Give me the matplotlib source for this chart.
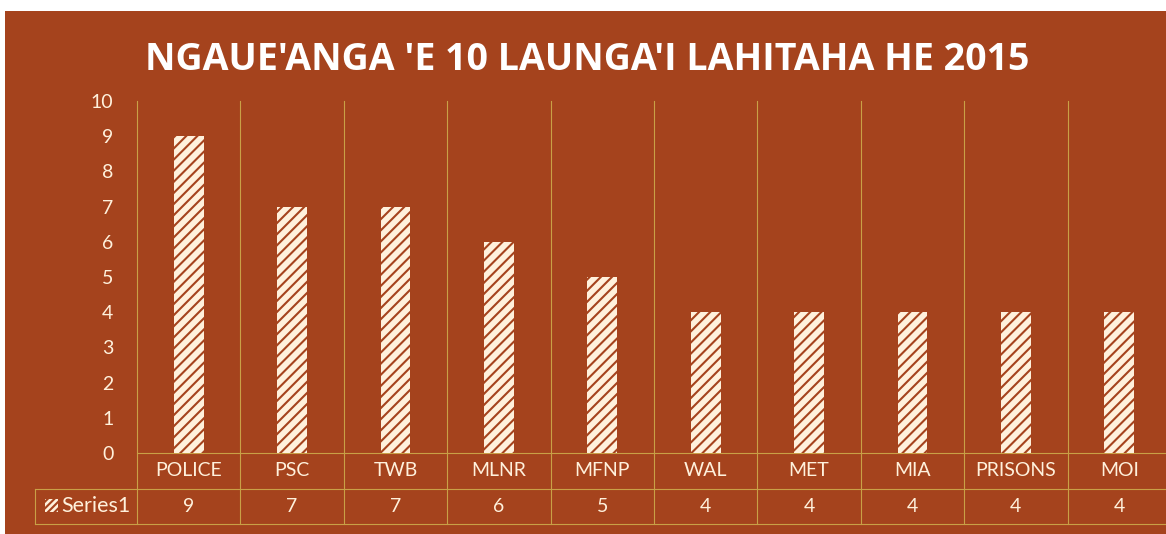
import matplotlib.pyplot as plt
import matplotlib.patches as mpatches
from matplotlib.transforms import blended_transform_factory

# datos
categorias = ['POLICE', 'PSC', 'TWB', 'MLNR', 'MFNP', 'WAL', 'MET', 'MIA', 'PRISONS', 'MOI']
valores = [9, 7, 7, 6, 5, 4, 4, 4, 4, 4]
serie = 'Series1'
titulo = "NGAUE'ANGA 'E 10 LAUNGA'I LAHITAHA HE 2015"

fondo = '#A5431D'
crema = '#FFF1DC'
linea = '#C9A046'

plt.rcParams['font.family'] = ['Lato', 'DejaVu Sans']
plt.rcParams['hatch.linewidth'] = 1.5

W, H = 1166, 534
fig = plt.figure(figsize=(W / 100, H / 100), dpi=100, facecolor='white')

# fondo del grafico (el escaneo deja un borde blanco arriba y a la izquierda)
fig.patches.append(mpatches.Rectangle((5 / W, 0), 1, 1 - 11 / H, transform=fig.transFigure,
                                      facecolor=fondo, edgecolor='none', zorder=-10))

ax = fig.add_axes([137 / W, 81 / H, 1034 / W, 352 / H])
ax.set_facecolor('none')
x = list(range(len(categorias)))
ax.bar(x, valores, width=0.29, facecolor=crema, edgecolor=fondo, linewidth=0, hatch='///', zorder=3)
ax.set_xlim(-0.5, len(categorias) - 0.5)
ax.set_ylim(0, 10)
ax.set_yticks(range(0, 11))
ax.tick_params(axis='y', length=0, pad=17, labelcolor=crema, labelsize=14)
ax.set_xticks([])
for s in ax.spines.values():
    s.set_visible(False)

# lineas verticales entre categorias (siguen hasta la tabla)
tr = blended_transform_factory(ax.transData, ax.transAxes)
tabla_h = (524 - 453) / 352
fila_h = tabla_h / 2
for i in range(len(categorias) + 1):
    ax.plot([i - 0.5, i - 0.5], [-tabla_h, 1], transform=tr, color=linea, lw=0.8,
            clip_on=False, zorder=1)

# lineas horizontales de la tabla
x_ser = (35 - 137) / 1034
ax.plot([0, 1], [0, 0], transform=ax.transAxes, color=linea, lw=0.8, clip_on=False)
for yy in [-fila_h, -tabla_h]:
    ax.plot([x_ser, 1], [yy, yy], transform=ax.transAxes, color=linea, lw=0.8, clip_on=False)
ax.plot([x_ser, x_ser], [-fila_h, -tabla_h], transform=ax.transAxes, color=linea, lw=0.8,
        clip_on=False)

# tabla de datos
for i, (c, v) in enumerate(zip(categorias, valores)):
    ax.text(i, -fila_h / 2, c, transform=tr, ha='center', va='center', color=crema, fontsize=14)
    ax.text(i, -fila_h * 1.5, str(v), transform=tr, ha='center', va='center', color=crema,
            fontsize=14)

# clave de la serie
ax.add_patch(mpatches.Rectangle(((45 - 137) / 1034, -fila_h * 1.5 - 6 / 352), 13 / 1034, 13 / 352,
                                transform=ax.transAxes, facecolor=crema, edgecolor=fondo,
                                linewidth=0, hatch='/////', clip_on=False))
ax.text((61 - 137) / 1034, -fila_h * 1.5, serie, transform=ax.transAxes, ha='left', va='center',
        color=crema, fontsize=15.5)

fig.text(587 / W, 1 - 60 / H, titulo, ha='center', va='center', color='white',
         fontsize=27, fontweight='bold', family=['Open Sans', 'DejaVu Sans'])

fig.savefig('out.png', dpi=100, facecolor='white')
